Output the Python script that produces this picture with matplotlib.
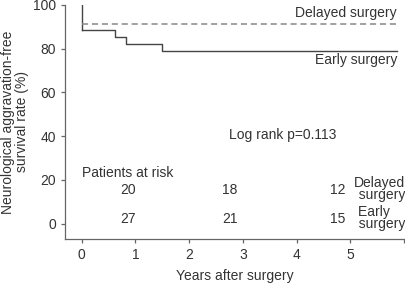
import matplotlib
matplotlib.use('Agg')
import matplotlib.pyplot as plt

plt.rcParams['font.family'] = ['Liberation Sans', 'DejaVu Sans']

# Kaplan-Meier steps (years, survival %)
early_t = [0, 0.63, 0.82, 1.49, 5.87]
early_s = [88.6, 85.1, 81.9, 79.0, 79.0]
delayed_t = [0, 5.87]
delayed_s = [91.2, 91.2]

risk_x = [0.86, 2.76, 4.77]
risk_delayed = [20, 18, 12]
risk_early = [27, 21, 15]

txt = '#333333'
line = '#444444'
fs = 10

fig = plt.figure(figsize=(4.06, 2.86), dpi=100)
ax = fig.add_axes([0.160, 0.164, 0.835, 0.819])

# early surgery (solid), starts at 100
ax.plot([0, 0], [100, early_s[0]], color=line, lw=1)
ax.step(early_t, early_s, where='post', color=line, lw=1)
ax.plot(delayed_t, delayed_s, color='#888888', lw=1.1, ls=(0, (4, 2.5)))

ax.text(5.87, 96.5, 'Delayed surgery', ha='right', va='center', fontsize=fs, color=txt)
ax.text(5.87, 74.8, 'Early surgery', ha='right', va='center', fontsize=fs, color=txt)
ax.text(2.74, 40.6, 'Log rank p=0.113', ha='left', va='center', fontsize=fs, color=txt)
ax.text(0.0, 23.3, 'Patients at risk', ha='left', va='center', fontsize=fs, color=txt)

for x, d, e in zip(risk_x, risk_delayed, risk_early):
    ax.text(x, 15.5, str(d), ha='center', va='center', fontsize=fs, color=txt)
    ax.text(x, 2.3, str(e), ha='center', va='center', fontsize=fs, color=txt)

ax.text(6.02, 16.0, 'Delayed\n  surgery', ha='right', va='center', fontsize=fs,
        color=txt, linespacing=0.8)
ax.text(6.02, 2.8, 'Early    \n  surgery', ha='right', va='center', fontsize=fs,
        color=txt, linespacing=0.8)

ax.set_xlim(-0.31, 6.0)
ax.set_ylim(-7, 100)
ax.set_xticks([0, 1, 2, 3, 4, 5, 6])
ax.set_xticklabels(['0', '1', '2', '3', '4', '5', ''])
ax.set_yticks([0, 20, 40, 60, 80, 100])

for s in ['top', 'right']:
    ax.spines[s].set_visible(False)
for s in ['left', 'bottom']:
    ax.spines[s].set_color('#666666')
    ax.spines[s].set_linewidth(0.9)
ax.tick_params(colors='#666666', labelcolor=txt, labelsize=fs, length=3, width=0.9)

ax.set_xlabel('Years after surgery', fontsize=fs, color=txt, labelpad=5)
ax.set_ylabel('Neurological aggravation-free\nsurvival rate (%)', fontsize=fs,
              color=txt, linespacing=0.95, labelpad=3)

fig.savefig('out.png', dpi=100)
